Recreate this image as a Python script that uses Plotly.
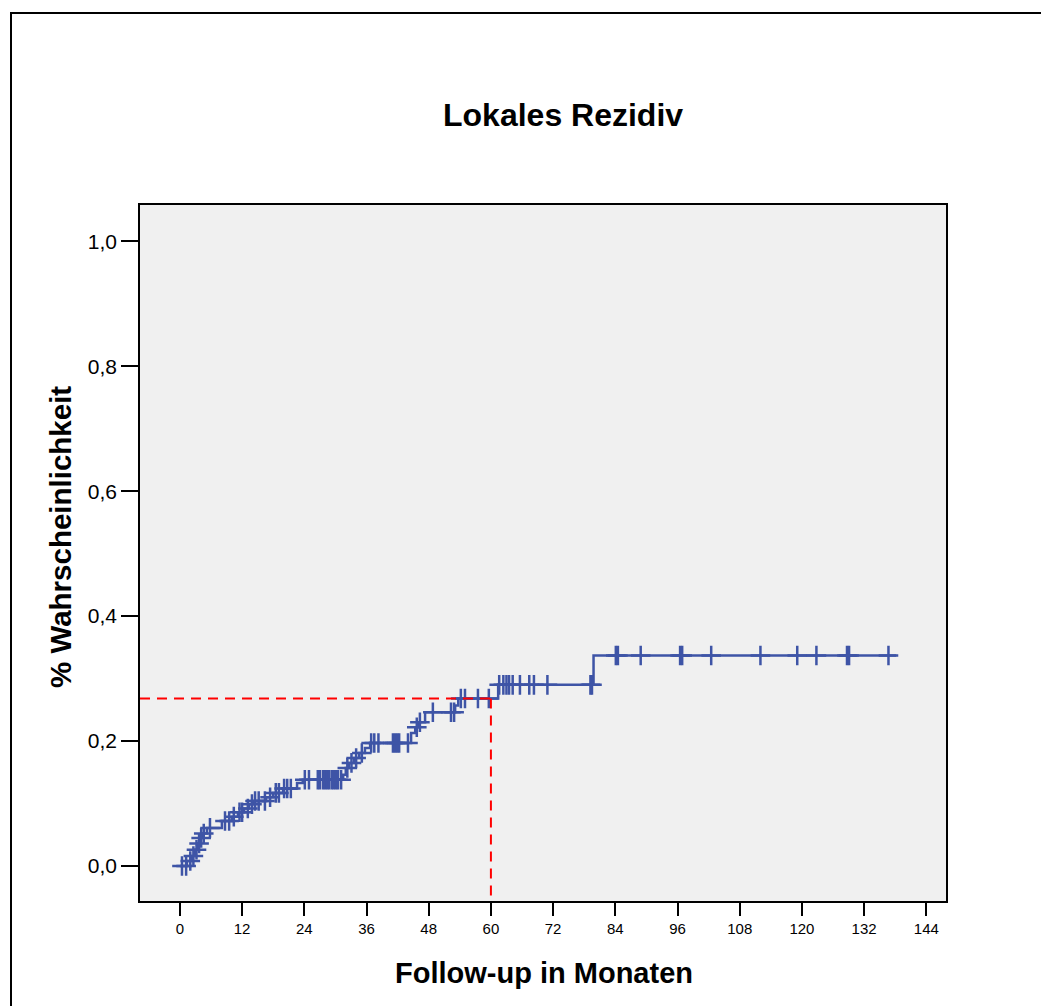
import plotly.graph_objects as go

# Step function (event times in months, cumulative probability after the step)
event_times = [0, 1.35, 2.3, 2.9, 3.5, 3.9, 4.4, 5.2, 8.1, 10.0, 11.2, 12.4, 13.3, 14.1,
               16.6, 18.0, 19.9, 22.6, 23.7, 31.5, 32.0, 32.6, 33.6, 34.6, 35.7, 36.7,
               44.6, 45.4, 45.9, 47.3, 53.1, 53.7, 61.4, 79.8]
event_values = [0.0, 0.008, 0.016, 0.026, 0.036, 0.045, 0.052, 0.061, 0.072, 0.079, 0.086,
                0.092, 0.099, 0.104, 0.110, 0.117, 0.124, 0.133, 0.138, 0.146, 0.157, 0.165,
                0.173, 0.181, 0.189, 0.197, 0.213, 0.222, 0.230, 0.246, 0.257, 0.268, 0.290,
                0.337]
end_time = 138.2

censored_times = [0.4, 1.2, 2.0, 2.6, 3.2, 3.7, 4.1, 4.6, 5.8, 8.7, 9.5, 10.4, 11.5, 12.0,
                  13.1, 13.9, 14.5, 15.2, 16.4, 17.4, 18.5, 19.1, 20.1, 20.7, 21.4, 24.1,
                  24.9, 26.6, 27.0, 27.6, 28.0, 28.4, 28.8, 29.3, 29.7, 30.1, 30.5, 31.1,
                  32.3, 33.1, 34.0, 35.1, 36.9, 37.5, 38.3, 41.1, 41.5, 41.9, 42.3, 44.0,
                  45.7, 46.3, 48.8, 52.3, 52.9, 54.2, 55.0, 57.5, 59.6, 61.6, 62.4, 63.0,
                  63.5, 64.2, 65.6, 67.4, 68.3, 70.9, 79.2, 79.5, 84.1, 84.5, 88.9, 96.5,
                  96.9, 102.5, 112.0, 119.1, 122.8, 128.7, 129.1, 136.7]

ref_time = 60
ref_value = 0.268

x_ticks = [0, 12, 24, 36, 48, 60, 72, 84, 96, 108, 120, 132, 144]
y_ticks = [0.0, 0.2, 0.4, 0.6, 0.8, 1.0]

x_range = [-7.7, 147.8]
y_range = [-0.056, 1.058]

BLUE = "#3E54A6"


def value_at(t):
    v = 0.0
    for et, ev in zip(event_times, event_values):
        if et <= t:
            v = ev
    return v


# Build step path
sx, sy = [], []
for i, (t, v) in enumerate(zip(event_times, event_values)):
    if i > 0:
        sx.append(t)
        sy.append(event_values[i - 1])
    sx.append(t)
    sy.append(v)
sx.append(end_time)
sy.append(event_values[-1])

cy = [value_at(t) for t in censored_times]

fig = go.Figure()
fig.add_trace(go.Scatter(x=sx, y=sy, mode="lines",
                         line=dict(color=BLUE, width=2.5), hoverinfo="skip",
                         showlegend=False))
fig.add_trace(go.Scatter(x=censored_times, y=cy, mode="markers",
                         marker=dict(symbol="cross-thin", size=14,
                                     line=dict(color=BLUE, width=2.5)),
                         showlegend=False))
# Red reference lines
fig.add_trace(go.Scatter(x=[x_range[0], ref_time], y=[ref_value, ref_value], mode="lines",
                         line=dict(color="#FF0000", width=2, dash="10px,7px"),
                         showlegend=False, hoverinfo="skip"))
fig.add_trace(go.Scatter(x=[ref_time, ref_time], y=[ref_value, y_range[0]], mode="lines",
                         line=dict(color="#FF0000", width=2, dash="10px,7px"),
                         showlegend=False, hoverinfo="skip"))

W, H = 1041, 1006
L, R, T, B = 140, 95, 205, 105
pw, ph = W - L - R, H - T - B


def px(x):
    return (x - L) / pw


def py(y):
    return (H - B - y) / ph


font_family = "Arial, Liberation Sans, sans-serif"

fig.update_layout(
    width=W, height=H,
    margin=dict(l=L, r=R, t=T, b=B),
    paper_bgcolor="white",
    plot_bgcolor="#F0F0F0",
    separators=",.",
    font=dict(family=font_family, color="black"),
    xaxis=dict(range=x_range, tickvals=x_ticks, ticks="outside", ticklen=13,
               tickwidth=2, tickcolor="black", showgrid=False, zeroline=False,
               showline=True, linecolor="black", linewidth=1.5, mirror=True,
               tickfont=dict(size=15, family=font_family)),
    yaxis=dict(range=y_range, tickvals=y_ticks, tickformat=".1f", ticks="outside",
               ticklen=17, tickwidth=2, tickcolor="black", showgrid=False,
               zeroline=False, showline=True, linecolor="black", linewidth=1.5,
               mirror=True, tickfont=dict(size=21, family=font_family)),
    shapes=[dict(type="rect", xref="paper", yref="paper",
                 x0=px(11), x1=px(1060), y0=py(1020), y1=py(13),
                 line=dict(color="black", width=2), fillcolor="rgba(0,0,0,0)",
                 layer="above")],
    annotations=[
        dict(text="<b>Lokales Rezidiv</b>", xref="paper", yref="paper",
             x=px(563), y=py(115), xanchor="center", yanchor="middle",
             showarrow=False, font=dict(size=32, family=font_family)),
        dict(text="<b>Follow-up in Monaten</b>", xref="paper", yref="paper",
             x=px(544), y=py(973), xanchor="center", yanchor="middle",
             showarrow=False, font=dict(size=29, family=font_family)),
        dict(text="<b>% Wahrscheinlichkeit</b>", xref="paper", yref="paper",
             x=px(60), y=py(537), xanchor="center", yanchor="middle",
             textangle=-90, showarrow=False, font=dict(size=29.5, family=font_family)),
    ],
)

fig.write_html("out.html")
